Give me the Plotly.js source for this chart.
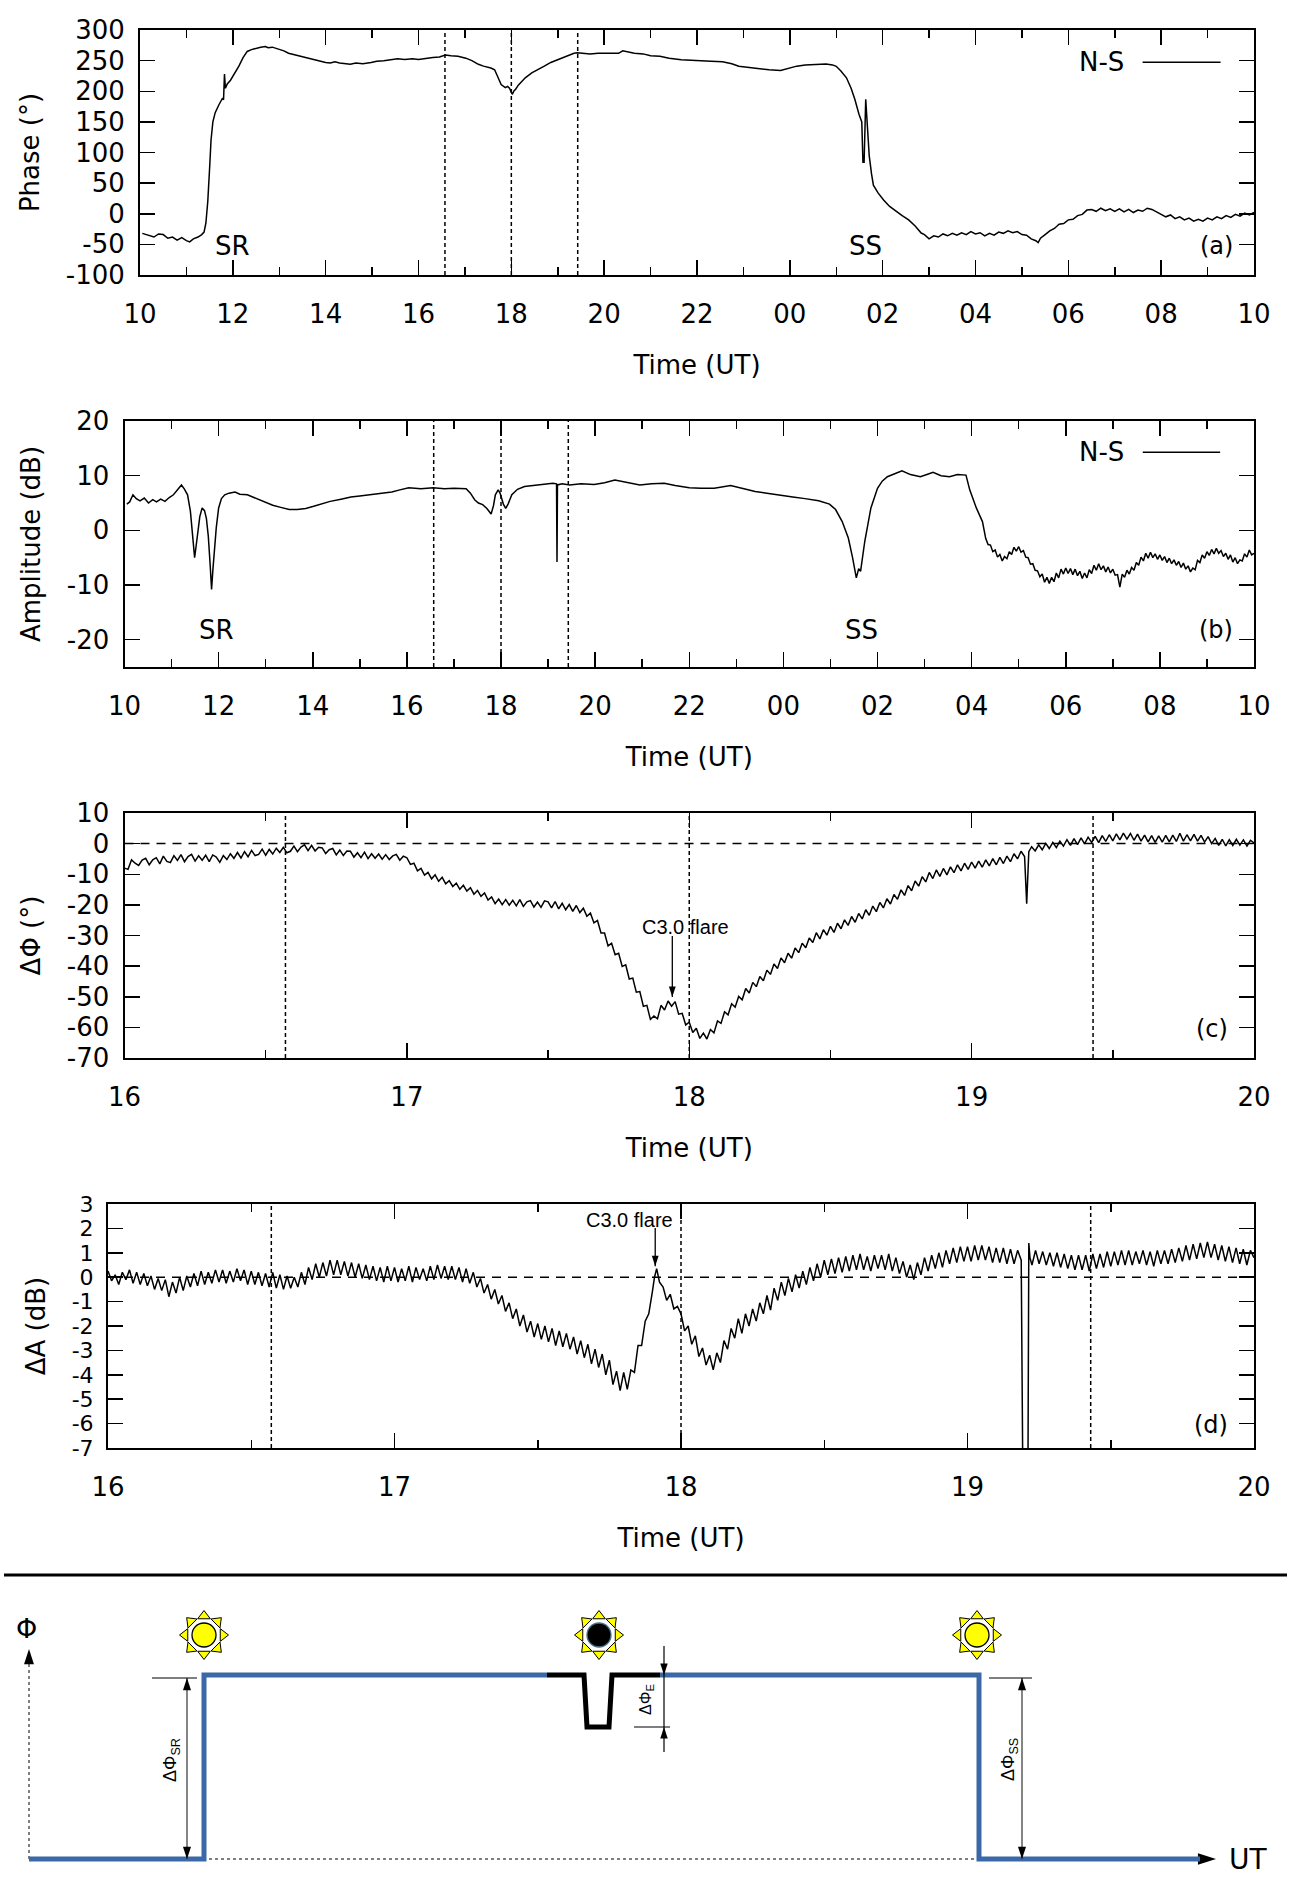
<!DOCTYPE html>
<html><head><meta charset="utf-8">
<script src="https://cdn.plot.ly/plotly-3.0.1.min.js"></script>
<style>html,body{margin:0;padding:0;background:#fff}#chart{width:1293px;height:1884px}</style>
</head><body><div id="chart"></div>
<script>
// ---------------- DATA ----------------
// (a) Phase, N-S, hours from 10 UT (24+ = next day)
const phaseTime = [10.05,10.2,10.3,10.4,10.5,10.6,10.7,10.8,10.9,11.0,11.07,11.15,11.25,11.33,11.38,11.42,11.46,11.5,11.53,11.57,
11.62,11.7,11.75,11.78,11.8,11.82,11.84,11.88,11.95,12.05,12.13,12.22,12.31,12.4,12.49,12.6,12.7,12.76,12.85,12.95,
13.02,13.1,13.2,13.3,13.4,13.5,13.64,13.75,13.85,14.0,14.1,14.2,14.3,14.4,14.53,14.65,14.8,14.98,15.1,15.25,
15.42,15.55,15.7,15.87,16.0,16.15,16.31,16.45,16.58,16.7,16.85,17.02,17.15,17.29,17.4,17.56,17.64,17.7,17.78,17.87,
17.92,17.96,18.0,18.02,18.06,18.09,18.15,18.22,18.3,18.44,18.55,18.71,18.85,18.98,19.1,19.24,19.35,19.42,19.55,19.7,
19.87,20.0,20.15,20.31,20.4,20.5,20.65,20.84,21.0,21.2,21.4,21.66,21.9,22.1,22.3,22.55,22.75,22.9,23.1,23.35,
23.55,23.8,23.98,24.15,24.33,24.55,24.78,24.92,25.0,25.1,25.22,25.32,25.4,25.49,25.55,25.575,25.6,25.635,25.67,25.71,
25.76,25.8,25.9,26.02,26.15,26.29,26.42,26.56,26.7,26.83,
26.9,27.0,27.1,27.2,27.3,27.4,27.5,27.6,27.7,27.8,
27.9,28.0,28.1,28.2,28.3,28.4,28.5,28.6,28.7,28.8,
28.9,29.0,29.1,29.2,29.3,29.35,29.4,29.5,29.6,29.7,
29.8,29.9,30.0,30.1,30.2,30.3,30.4,30.5,30.6,30.7,
30.8,30.9,31.0,31.1,31.2,31.3,31.4,31.5,31.6,31.7,
31.8,31.9,32.0,32.1,32.2,32.3,32.4,32.5,32.6,32.7,
32.8,32.9,33.0,33.1,33.2,33.3,33.4,33.5,33.6,33.7,
33.8,33.9,34.0];
const phaseNS = [-32,-36,-38,-33,-34,-40,-38,-43,-39,-44,-46,-41,-38,-34,-30,-15,20,75,120,150,
165,178,185,189,186,228,205,212,218,230,241,255,265,268,270,272,273,271,272,270,
268,266,262,260,258,256,254,251,249,247,246,248,246,245,244,246,245,247,249,250,
252,253,252,253,252,254,255,256,259,258,257,254,250,244,241,238,235,225,211,206,
208,205,198,195,201,203,210,216,222,230,234,241,247,251,255,259,262,263,262,261,
262,262,261,262,266,264,262,261,258,257,254,251.5,251,250,249,248,245,240.7,239,236,
235,234,238,241,243,244,244.5,243,240.7,233,222,205,187,162.5,150,84,84,187,140,95,
65,46.6,34,22.4,12,3.5,-3,-10,-20,-31.5,
-34,-41,-36,-38,-33,-36,-32,-35,-31,-34,
-29,-33,-31,-36,-32,-35,-30,-32,-28,-31,
-29,-34,-35,-41,-44,-47,-40,-34,-28,-24,
-17,-16,-10,-9,-3,-1,6,7,4,9,
5,8,4,8,3,7,2,6,4,9,
7,3,-1,-5,-2,-8,-5,-10,-7,-12,
-9,-12,-7,-10,-5,-8,-3,-6,-1,-4,
1,-2,2];

// (b) Amplitude, N-S
const ampTime = [10.05,10.11,10.18,10.25,10.33,10.42,10.51,10.6,10.68,10.77,10.86,10.95,11.04,11.12,11.21,11.27,11.34,11.4,11.43,11.47,
11.49,11.52,11.56,11.6,11.65,11.7,11.74,11.78,11.82,11.85,11.88,11.91,11.95,12.0,12.06,12.13,12.22,12.35,12.45,12.61,
12.8,12.96,13.15,13.32,13.5,13.67,13.85,14.02,14.2,14.37,14.6,14.81,15.0,15.25,15.45,15.68,15.85,16.04,16.3,16.56,
16.8,17.0,17.26,17.35,17.44,17.52,17.61,17.7,17.79,17.84,17.88,17.94,17.98,18.01,18.05,18.1,18.15,18.23,18.35,18.5,
18.75,18.95,19.1,19.18,19.19,19.2,19.3,19.46,19.7,19.98,20.2,20.42,20.6,20.8,20.95,21.2,21.47,21.7,22.0,22.25,
22.53,22.88,23.1,23.4,23.65,23.93,24.2,24.46,24.75,24.98,25.11,25.25,25.38,25.47,25.55,25.6,25.64,25.73,25.86,26.0,
26.1,26.21,26.35,26.52,26.7,26.91,27.05,27.18,27.35,27.53,27.7,27.88,27.96,28.1,28.23,
28.3,28.35,28.4,28.45,28.5,28.55,28.6,28.65,28.7,28.75,
28.8,28.85,28.9,28.95,29.0,29.05,29.1,29.15,29.2,29.25,
29.3,29.35,29.4,29.45,29.5,29.55,29.6,29.65,29.7,29.75,
29.8,29.85,29.9,29.95,30.0,30.05,30.1,30.15,30.2,30.25,
30.3,30.35,30.4,30.45,30.5,30.55,30.6,30.65,30.7,30.75,
30.8,30.85,30.9,30.95,31.0,31.05,31.1,31.15,31.2,31.25,
31.3,31.35,31.4,31.45,31.5,31.55,31.6,31.65,31.7,31.75,
31.8,31.85,31.9,31.95,32.0,32.05,32.1,32.15,32.2,32.25,
32.3,32.35,32.4,32.45,32.5,32.55,32.6,32.65,32.7,32.75,
32.8,32.85,32.9,32.95,33.0,33.05,33.1,33.15,33.2,33.25,
33.3,33.35,33.4,33.45,33.5,33.55,33.6,33.65,33.7,33.75,
33.8,33.85,33.9,33.95,34.0];
const ampNS = [4.8,5.2,6.5,5.8,5.4,5.9,5.0,5.6,5.2,5.7,5.3,6.0,6.5,7.4,8.3,7.6,6.5,3.5,1.0,-3,
-5.0,-3,-0.2,2.5,4.1,3.6,2.2,-1,-6.3,-10.8,-7,-3.2,0.5,4.1,5.8,6.5,6.8,7.0,6.6,6.5,
5.8,5.3,4.6,4.2,3.8,3.8,4.0,4.4,4.9,5.3,5.7,6.1,6.3,6.6,6.8,7.0,7.4,7.8,7.6,7.8,
7.6,7.7,7.6,6.8,5.6,5.0,4.7,4.0,3.0,4.5,6.5,7.4,6.8,5.9,4.8,4.0,4.8,6.5,7.5,8.0,
8.2,8.4,8.6,8.5,-5.8,8.3,8.5,8.3,8.5,8.4,8.7,9.2,8.9,8.6,8.3,8.5,8.6,8.2,7.8,7.7,
7.7,8.2,7.7,7.1,6.8,6.4,6.1,5.8,5.4,4.8,3.8,1.6,-1.4,-5.0,-8.7,-7.0,-7.5,-2.0,4.1,7.7,
9.0,9.8,10.3,10.9,10.2,9.8,10.2,10.6,10.0,9.8,10.2,10.1,7.4,4.1,1.6,
-1.5,-2.6,-2.7,-3.9,-3.6,-4.9,-4.4,-5.6,-4.8,-5.2,
-3.9,-4.4,-3.1,-3.8,-3.0,-4.0,-3.7,-4.9,-5.0,-6.2,
-6.1,-7.3,-7.4,-8.5,-8.0,-9.5,-8.6,-9.7,-8.6,-9.4,
-7.8,-8.7,-7.1,-8.0,-6.9,-7.9,-7.0,-8.1,-7.1,-8.3,
-7.5,-8.8,-7.8,-8.7,-7.2,-7.9,-6.4,-7.3,-6.1,-7.2,
-6.5,-7.6,-6.7,-7.8,-7.1,-8.2,-8.1,-10.4,-8.0,-8.6,
-7.3,-8.0,-6.8,-7.3,-5.9,-6.4,-4.9,-5.6,-4.2,-5.1,
-4.0,-5.0,-4.3,-5.3,-4.5,-5.5,-4.8,-5.9,-5.1,-6.1,
-5.4,-6.4,-5.7,-6.8,-6.0,-7.1,-6.5,-7.6,-6.9,-7.2,
-5.5,-5.9,-4.5,-5.1,-3.9,-4.6,-3.5,-4.3,-3.3,-4.2,
-3.7,-4.8,-4.2,-5.3,-4.5,-5.8,-5.0,-6.1,-5.4,-5.6,
-4.3,-4.9,-3.6,-4.5,-4.2];

// (c) Delta Phase (16-20 UT)
const dPhiTime = [
16.0,16.0125,16.025,16.0375,16.05,16.0625,16.075,16.0875,
16.1,16.1125,16.125,16.1375,16.15,16.1625,16.175,16.1875,
16.2,16.2125,16.225,16.2375,16.25,16.2625,16.275,16.2875,
16.3,16.3125,16.325,16.3375,16.35,16.3625,16.375,16.3875,
16.4,16.4125,16.425,16.4375,16.45,16.4625,16.475,16.4875,
16.5,16.5125,16.525,16.5375,16.55,16.5625,16.575,16.5875,
16.6,16.6125,16.625,16.6375,16.65,16.6625,16.675,16.6875,
16.7,16.7125,16.725,16.7375,16.75,16.7625,16.775,16.7875,
16.8,16.8125,16.825,16.8375,16.85,16.8625,16.875,16.8875,
16.9,16.9125,16.925,16.9375,16.95,16.9625,16.975,16.9875,
17.0,17.0125,17.025,17.0375,17.05,17.0625,17.075,17.0875,
17.1,17.1125,17.125,17.1375,17.15,17.1625,17.175,17.1875,
17.2,17.2125,17.225,17.2375,17.25,17.2625,17.275,17.2875,
17.3,17.3125,17.325,17.3375,17.35,17.3625,17.375,17.3875,
17.4,17.4125,17.425,17.4375,17.45,17.4625,17.475,17.4875,
17.5,17.5125,17.525,17.5375,17.55,17.5625,17.575,17.5875,
17.6,17.6125,17.625,17.6375,17.65,17.6625,17.675,17.6875,
17.7,17.7125,17.725,17.7375,17.75,17.7625,17.775,17.7875,
17.8,17.8125,17.825,17.8375,17.85,17.8625,17.875,17.8875,
17.9,17.9125,17.925,17.9375,17.95,17.9625,17.975,17.9875,
18.0,18.0125,18.025,18.0375,18.05,18.0625,18.075,18.0875,
18.1,18.1125,18.125,18.1375,18.15,18.1625,18.175,18.1875,
18.2,18.2125,18.225,18.2375,18.25,18.2625,18.275,18.2875,
18.3,18.3125,18.325,18.3375,18.35,18.3625,18.375,18.3875,
18.4,18.4125,18.425,18.4375,18.45,18.4625,18.475,18.4875,
18.5,18.5125,18.525,18.5375,18.55,18.5625,18.575,18.5875,
18.6,18.6125,18.625,18.6375,18.65,18.6625,18.675,18.6875,
18.7,18.7125,18.725,18.7375,18.75,18.7625,18.775,18.7875,
18.8,18.8125,18.825,18.8375,18.85,18.8625,18.875,18.8875,
18.9,18.9125,18.925,18.9375,18.95,18.9625,18.975,18.9875,
19.0,19.0125,19.025,19.0375,19.05,19.0625,19.075,19.0875,
19.1,19.1125,19.125,19.1375,19.15,19.1625,19.175,19.1875,
19.195,19.2025,
19.2125,19.225,19.2375,19.25,19.2625,19.275,19.2875,
19.3,19.3125,19.325,19.3375,19.35,19.3625,19.375,19.3875,
19.4,19.4125,19.425,19.4375,19.45,19.4625,19.475,19.4875,
19.5,19.5125,19.525,19.5375,19.55,19.5625,19.575,19.5875,
19.6,19.6125,19.625,19.6375,19.65,19.6625,19.675,19.6875,
19.7,19.7125,19.725,19.7375,19.75,19.7625,19.775,19.7875,
19.8,19.8125,19.825,19.8375,19.85,19.8625,19.875,19.8875,
19.9,19.9125,19.925,19.9375,19.95,19.9625,19.975,19.9875,20.0];
const dPhi = [
-8.0,-8.4,-5.3,-6.4,-7.1,-5.4,-4.8,-6.9,
-5.3,-4.6,-6.6,-4.1,-5.8,-6.2,-3.9,-5.5,
-3.6,-5.9,-4.2,-3.5,-5.7,-4.0,-5.4,-3.8,
-5.9,-3.7,-4.4,-6.1,-3.9,-5.2,-3.3,-4.8,
-2.9,-4.7,-2.6,-4.3,-2.2,-3.9,-3.5,-1.8,
-3.8,-1.9,-3.4,-1.5,-2.9,-1.2,-3.0,-2.5,
-0.8,-2.6,-1.1,-0.4,-2.3,-0.6,-2.4,-1.2,
-1.4,-3.2,-2.0,-1.6,-3.7,-2.1,-3.9,-2.4,
-2.5,-4.4,-3.0,-4.6,-2.8,-4.9,-3.3,-4.8,
-3.4,-5.1,-3.6,-5.2,-4.0,-3.5,-5.4,-4.1,
-4.6,-6.8,-6.4,-8.9,-8.1,-10.3,-9.4,-11.5,
-10.2,-12.3,-11.0,-13.1,-12.1,-14.0,-12.9,-14.9,
-13.6,-15.5,-14.4,-16.5,-15.3,-17.2,-16.1,-18.4,
-17.4,-19.6,-18.1,-19.9,-18.3,-20.1,-18.5,-20.3,
-18.3,-20.5,-19.0,-18.6,-20.7,-19.1,-20.8,-18.7,
-19.0,-21.0,-18.9,-21.3,-19.5,-21.6,-19.9,-22.1,
-20.2,-22.5,-21.1,-23.7,-22.7,-25.9,-25.1,-29.2,
-29.2,-33.4,-32.5,-36.3,-35.8,-40.1,-39.6,-44.2,
-43.9,-48.5,-48.3,-53.1,-52.8,-57.4,-56.3,-57.2,
-52.8,-54.3,-51.4,-53.1,-51.6,-55.7,-55.4,-59.2,
-58.3,-61.7,-60.3,-63.6,-61.9,-63.8,-60.7,-61.8,
-57.9,-58.7,-54.9,-55.9,-52.3,-53.4,-49.9,-51.0,
-47.3,-48.8,-45.3,-46.7,-43.4,-44.8,-41.3,-42.7,
-39.3,-40.8,-37.3,-38.9,-35.8,-37.4,-34.1,-35.6,
-32.5,-34.0,-30.8,-32.3,-29.1,-31.1,-28.1,-29.9,
-27.0,-29.0,-26.0,-27.8,-24.9,-26.7,-23.8,-25.7,
-22.8,-24.6,-21.6,-23.4,-20.4,-22.2,-19.2,-21.0,
-18.0,-19.7,-16.6,-18.2,-15.1,-16.9,-13.7,-15.4,
-12.2,-13.9,-10.8,-12.5,-9.4,-11.4,-8.6,-10.7,
-8.1,-10.2,-7.6,-9.5,-6.9,-8.9,-6.4,-8.4,
-6.0,-8.0,-5.7,-7.7,-5.3,-7.3,-4.9,-6.9,
-4.5,-6.5,-4.1,-5.9,-3.3,-5.0,-2.5,-4.2,
-19.6,-2.6,
-1.0,-2.4,-0.4,-2.0,0.1,-1.6,0.4,
-1.3,0.8,-0.8,1.3,-0.6,1.6,-0.3,1.9,
-0.1,2.1,0.4,2.4,0.3,2.6,0.7,2.9,
0.9,3.2,1.2,3.4,1.5,3.3,1.1,3.1,
0.8,2.8,0.6,2.6,0.4,2.5,0.5,2.7,
0.6,2.8,0.7,3.4,0.8,2.9,0.9,3.0,
0.8,2.7,0.5,2.3,0.0,1.7,-0.6,1.4,
-0.7,1.3,-0.6,1.4,-0.5,1.2,-0.8,1.1,0.2];

// (d) Delta Amplitude (16-20 UT)
const dAmpTime = [
16.0,16.0125,16.025,16.0375,16.05,16.0625,16.075,16.0875,
16.1,16.1125,16.125,16.1375,16.15,16.1625,16.175,16.1875,
16.2,16.2125,16.225,16.2375,16.25,16.2625,16.275,16.2875,
16.3,16.3125,16.325,16.3375,16.35,16.3625,16.375,16.3875,
16.4,16.4125,16.425,16.4375,16.45,16.4625,16.475,16.4875,
16.5,16.5125,16.525,16.5375,16.55,16.5625,16.575,16.5875,
16.6,16.6125,16.625,16.6375,16.65,16.6625,16.675,16.6875,
16.7,16.7125,16.725,16.7375,16.75,16.7625,16.775,16.7875,
16.8,16.8125,16.825,16.8375,16.85,16.8625,16.875,16.8875,
16.9,16.9125,16.925,16.9375,16.95,16.9625,16.975,16.9875,
17.0,17.0125,17.025,17.0375,17.05,17.0625,17.075,17.0875,
17.1,17.1125,17.125,17.1375,17.15,17.1625,17.175,17.1875,
17.2,17.2125,17.225,17.2375,17.25,17.2625,17.275,17.2875,
17.3,17.3125,17.325,17.3375,17.35,17.3625,17.375,17.3875,
17.4,17.4125,17.425,17.4375,17.45,17.4625,17.475,17.4875,
17.5,17.5125,17.525,17.5375,17.55,17.5625,17.575,17.5875,
17.6,17.6125,17.625,17.6375,17.65,17.6625,17.675,17.6875,
17.7,17.7125,17.725,17.7375,17.75,17.7625,17.775,17.7875,
17.8,17.8125,17.825,17.8375,17.85,17.8625,17.875,17.8875,
17.9,17.9075,17.915,17.925,17.9375,17.95,17.9625,17.975,17.9875,
18.0,18.0125,18.025,18.0375,18.05,18.0625,18.075,18.0875,
18.1,18.1125,18.125,18.1375,18.15,18.1625,18.175,18.1875,
18.2,18.2125,18.225,18.2375,18.25,18.2625,18.275,18.2875,
18.3,18.3125,18.325,18.3375,18.35,18.3625,18.375,18.3875,
18.4,18.4125,18.425,18.4375,18.45,18.4625,18.475,18.4875,
18.5,18.5125,18.525,18.5375,18.55,18.5625,18.575,18.5875,
18.6,18.6125,18.625,18.6375,18.65,18.6625,18.675,18.6875,
18.7,18.7125,18.725,18.7375,18.75,18.7625,18.775,18.7875,
18.8,18.8125,18.825,18.8375,18.85,18.8625,18.875,18.8875,
18.9,18.9125,18.925,18.9375,18.95,18.9625,18.975,18.9875,
19.0,19.0125,19.025,19.0375,19.05,19.0625,19.075,19.0875,
19.1,19.1125,19.125,19.1375,19.15,19.1625,19.175,19.1875,
19.193,19.211,19.214,19.218,
19.225,19.2375,19.25,19.2625,19.275,19.2875,
19.3,19.3125,19.325,19.3375,19.35,19.3625,19.375,19.3875,
19.4,19.4125,19.425,19.4375,19.45,19.4625,19.475,19.4875,
19.5,19.5125,19.525,19.5375,19.55,19.5625,19.575,19.5875,
19.6,19.6125,19.625,19.6375,19.65,19.6625,19.675,19.6875,
19.7,19.7125,19.725,19.7375,19.75,19.7625,19.775,19.7875,
19.8,19.8125,19.825,19.8375,19.85,19.8625,19.875,19.8875,
19.9,19.9125,19.925,19.9375,19.95,19.9625,19.975,19.9875,20.0];
const dAmp = [
0.25,-0.15,0.1,-0.3,0.2,-0.1,0.3,-0.25,
0.2,-0.3,0.15,-0.35,0.05,-0.5,-0.05,-0.55,
-0.1,-0.8,-0.2,-0.65,0.0,-0.55,0.05,-0.4,
0.15,-0.35,0.25,-0.3,0.2,-0.25,0.3,-0.2,
0.3,-0.25,0.25,-0.2,0.35,-0.15,0.3,-0.3,
0.25,-0.3,0.2,-0.35,0.15,-0.4,0.2,-0.45,
0.1,-0.5,0.05,-0.45,0.0,-0.4,0.2,-0.3,
0.4,-0.1,0.55,0.0,0.6,0.05,0.7,0.1,
0.7,0.1,0.65,0.05,0.6,0.0,0.55,-0.05,
0.5,-0.1,0.45,-0.15,0.4,-0.2,0.45,-0.15,
0.4,-0.2,0.35,-0.15,0.45,-0.2,0.4,-0.1,
0.35,-0.15,0.45,-0.1,0.5,-0.05,0.45,-0.1,
0.45,-0.1,0.4,-0.2,0.35,-0.25,0.2,-0.4,
-0.05,-0.65,-0.3,-0.9,-0.5,-1.1,-0.75,-1.4,
-1.05,-1.7,-1.3,-2.0,-1.55,-2.25,-1.8,-2.45,
-1.9,-2.55,-2.0,-2.65,-2.1,-2.8,-2.2,-2.85,
-2.3,-2.95,-2.45,-3.15,-2.6,-3.3,-2.75,-3.55,
-2.95,-3.7,-3.15,-4.0,-3.4,-4.4,-3.85,-4.65,
-3.9,-4.6,-3.8,-3.9,-2.8,-2.8,-1.8,-1.5,
-0.6,0.0,0.35,-0.2,-0.4,-0.95,-0.7,-1.3,-1.2,
-1.5,-2.2,-2.0,-2.75,-2.4,-3.25,-2.9,-3.6,
-3.2,-3.8,-3.1,-3.5,-2.6,-2.95,-2.1,-2.5,
-1.7,-2.3,-1.5,-2.0,-1.3,-1.8,-1.05,-1.5,
-0.75,-1.35,-0.45,-0.95,-0.2,-0.75,-0.05,-0.6,
0.1,-0.45,0.25,-0.3,0.4,-0.15,0.55,0.0,
0.7,0.1,0.75,0.15,0.8,0.2,0.85,0.25,
0.9,0.3,0.95,0.3,0.85,0.25,0.9,0.35,
0.9,0.3,0.95,0.25,0.8,0.15,0.65,0.0,
0.5,-0.1,0.6,0.1,0.8,0.25,0.9,0.35,
1.0,0.4,1.1,0.55,1.2,0.6,1.25,0.65,
1.25,0.65,1.3,0.7,1.3,0.7,1.25,0.6,
1.2,0.6,1.2,0.55,1.15,0.55,1.1,0.7,
-8,-8,1.4,0.8,
0.5,1.1,0.55,1.05,0.5,1.0,
0.45,1.0,0.4,0.95,0.35,0.9,0.3,0.9,
0.3,0.9,0.25,0.95,0.35,0.95,0.4,1.05,
0.45,1.05,0.5,1.1,0.5,1.1,0.5,1.05,
0.55,1.1,0.5,1.05,0.45,1.1,0.55,1.1,
0.55,1.15,0.6,1.2,0.65,1.3,0.7,1.35,
0.75,1.4,0.8,1.45,0.8,1.35,0.7,1.3,
0.65,1.25,0.6,1.2,0.55,1.15,0.5,1.1,0.8];

const eventTimes = [16.57, 18.0, 19.43];          // dotted vertical markers
const dayTickVals = [10,12,14,16,18,20,22,24,26,28,30,32,34];
const dayTickText = ['10','12','14','16','18','20','22','00','02','04','06','08','10'];
const zoomTickVals = [16,17,18,19,20];
const zoomTickText = ['16','17','18','19','20'];
const phaseTicks = [-100,-50,0,50,100,150,200,250,300];
const ampTicks = [-20,-10,0,10,20];
const dPhiTicks = [-70,-60,-50,-40,-30,-20,-10,0,10];
const dAmpTicks = [-7,-6,-5,-4,-3,-2,-1,0,1,2,3];
const flareC = {t: 17.94, text: 'C3.0 flare', textT: 17.987, textY: -27.1, tail: -30.2, head: -50.1};
const flareD = {t: 17.91, text: 'C3.0 flare', textT: 17.82, textY: 2.36, tail: 2.02, head: 0.45};

// Schematic (bottom panel), arbitrary units
const schemNightT = [2.9, 20.4, 20.4, 54.7];
const schemNightP = [2.5, 2.5, 20.9, 20.9];
const schemEclT = [54.7, 58.4, 58.7, 60.9, 61.2, 66.0];
const schemEclP = [20.9, 20.9, 15.7, 15.7, 20.9, 20.9];
const schemDayT = [66.0, 97.9, 97.9, 120.0];
const schemDayP = [20.9, 20.9, 2.5, 2.5];
const sunT = [20.4, 59.9, 97.7];
const sunP = [24.9, 24.9, 24.9];
const sunFill = ['#ffff00', '#000000', '#ffff00'];
const dimSR = {t: 18.7, lo: 2.5, hi: 20.6};
const dimSS = {t: 102.2, lo: 2.5, hi: 20.6};
const dimE = {t: 66.4, top: 23.8, hi: 20.9, lo: 15.7, bottom: 13.2};
const axisPhiTip = 23.5, axisUTTip = 121.6;

// ---------------- LAYOUT ----------------
const W = 1293, H = 1884;
const box = { a: [140, 1254, 30, 275], b: [124.5, 1254, 421, 667], c: [124.5, 1254, 813, 1058], d: [108, 1254, 1204, 1448] };
const dx = b => [b[0] / W, b[1] / W];
const dy = b => [1 - b[3] / H, 1 - b[2] / H];
const FONT = 'DejaVu Sans';
const blue = '#3b69a8';
const lbl = v => String(v);

function xAxis(b, anchor, vals, text, minorDt, range) {
  return {
    domain: dx(b), anchor: anchor, range: range, tickmode: 'array', tickvals: vals, ticktext: text,
    showline: true, linecolor: '#000', linewidth: 2, mirror: 'ticks', ticks: 'inside', ticklen: 15, tickwidth: 1.5, tickcolor: '#000',
    minor: {ticks: 'inside', ticklen: 8, tickwidth: 1.5, tickcolor: '#000', dtick: minorDt, tick0: 0, showgrid: false},
    showgrid: false, zeroline: false, ticklabelstandoff: 15,
    tickfont: {family: FONT, size: 26, color: '#000'},
    title: {text: 'Time (UT)', font: {family: FONT, size: 26, color: '#000'}, standoff: 28}
  };
}
function yAxis(b, anchor, range, vals, title, fs) {
  return {
    domain: dy(b), anchor: anchor, range: range, tickmode: 'array', tickvals: vals, ticktext: vals.map(lbl),
    showline: true, linecolor: '#000', linewidth: 2, mirror: 'ticks', ticks: 'inside', ticklen: 15, tickwidth: 1.5, tickcolor: '#000',
    showgrid: false, zeroline: false, ticklabelstandoff: 8,
    tickfont: {family: FONT, size: fs || 26, color: '#000'},
    title: {text: title, font: {family: FONT, size: 26, color: '#000'}, standoff: 19}
  };
}

const lineStyle = {color: '#000', width: 1.5};
const S = {xaxis: 'x5', yaxis: 'y5'};
const head = (x, y, ang, size, color) => Object.assign({x: [x], y: [y], mode: 'markers',
  marker: {symbol: 'arrow', angle: ang, size: size, color: color || '#000', line: {width: 0}}}, S);
const traces = [
  {x: phaseTime, y: phaseNS, xaxis: 'x', yaxis: 'y', mode: 'lines', line: lineStyle, name: 'N-S'},
  {x: ampTime, y: ampNS, xaxis: 'x2', yaxis: 'y2', mode: 'lines', line: lineStyle, name: 'N-S'},
  {x: dPhiTime, y: dPhi, xaxis: 'x3', yaxis: 'y3', mode: 'lines', line: {color: '#000', width: 1.5}, name: 'dPhi'},
  {x: dAmpTime, y: dAmp, xaxis: 'x4', yaxis: 'y4', mode: 'lines', line: {color: '#000', width: 1.5}, name: 'dA'},
  // flare arrows
  {x: [flareC.t, flareC.t], y: [flareC.tail, flareC.head], xaxis: 'x3', yaxis: 'y3', mode: 'lines', line: {color: '#000', width: 1.3}},
  {x: [flareC.t], y: [flareC.head], xaxis: 'x3', yaxis: 'y3', mode: 'markers', marker: {symbol: 'arrow', angle: 180, size: 11, color: '#000'}},
  {x: [flareD.t, flareD.t], y: [flareD.tail, flareD.head], xaxis: 'x4', yaxis: 'y4', mode: 'lines', line: {color: '#000', width: 1.3}},
  {x: [flareD.t], y: [flareD.head], xaxis: 'x4', yaxis: 'y4', mode: 'markers', marker: {symbol: 'arrow', angle: 180, size: 11, color: '#000'}},
  // schematic: dotted axes
  Object.assign({x: [schemNightT[0], axisUTTip - 1], y: [schemNightP[0], schemNightP[0]], mode: 'lines', line: {color: '#000', width: 1, dash: '3px,3px'}}, S),
  Object.assign({x: [schemNightT[0], schemNightT[0]], y: [schemNightP[0], axisPhiTip - 1], mode: 'lines', line: {color: '#000', width: 1, dash: '3px,3px'}}, S),
  head(schemNightT[0], axisPhiTip, 0, 16),
  head(axisUTTip, schemNightP[0], 90, 19),
  // schematic: phase step
  Object.assign({x: schemNightT, y: schemNightP, mode: 'lines', line: {color: blue, width: 5}}, S),
  Object.assign({x: schemEclT, y: schemEclP, mode: 'lines', line: {color: '#000', width: 5}}, S),
  Object.assign({x: schemDayT, y: schemDayP, mode: 'lines', line: {color: blue, width: 5}}, S),
  // dimension arrows
  Object.assign({x: [dimSR.t, dimSR.t], y: [dimSR.lo, dimSR.hi], mode: 'lines', line: {color: '#333', width: 1.2}}, S),
  head(dimSR.t, dimSR.hi, 0, 13), head(dimSR.t, dimSR.lo, 180, 13),
  Object.assign({x: [dimSS.t, dimSS.t], y: [dimSS.lo, dimSS.hi], mode: 'lines', line: {color: '#333', width: 1.2}}, S),
  head(dimSS.t, dimSS.hi, 0, 13), head(dimSS.t, dimSS.lo, 180, 13),
  Object.assign({x: [dimE.t, dimE.t], y: [dimE.top, dimE.bottom], mode: 'lines', line: {color: '#000', width: 1.2}}, S),
  head(dimE.t, dimE.hi, 180, 12), head(dimE.t, dimE.lo, 0, 12),
];
// sun icons: 8 rays + disc
const rayR = 1.9;
sunT.forEach((st, i) => {
  const rx = [], ry = [], ang = [];
  for (let k = 0; k < 8; k++) {
    const a = k * 45;
    rx.push(st + rayR * Math.sin(a * Math.PI / 180));
    ry.push(sunP[i] + rayR * Math.cos(a * Math.PI / 180));
    ang.push(a);
  }
  traces.push(Object.assign({x: rx, y: ry, mode: 'markers',
    marker: {symbol: 'triangle-up', size: 11, angle: ang, color: '#ffff00', line: {color: '#000', width: 1}}}, S));
  traces.push(Object.assign({x: [st], y: [sunP[i]], mode: 'markers',
    marker: {symbol: 'circle', size: 24, color: sunFill[i], line: {color: i === 1 ? '#4a6e8a' : '#000', width: 1.3}}}, S));
});
traces.forEach(t => { t.showlegend = false; t.hoverinfo = 'skip'; });

const shapes = [];
[['x', 'y'], ['x2', 'y2'], ['x3', 'y3'], ['x4', 'y4']].forEach(([xa, ya]) => {
  eventTimes.forEach(t => shapes.push({type: 'line', xref: xa, yref: ya + ' domain', x0: t, x1: t, y0: 0, y1: 1,
    line: {color: '#000', width: 1.5, dash: '4px,3px'}, layer: 'above'}));
});
[['x3', 'y3'], ['x4', 'y4']].forEach(([xa, ya]) => shapes.push({type: 'line', xref: xa + ' domain', yref: ya, x0: 0, x1: 1, y0: 0, y1: 0,
  line: {color: '#000', width: 1.5, dash: '9px,7px'}, layer: 'below'}));
// legend samples
shapes.push({type: 'line', xref: 'x domain', yref: 'y domain', x0: 0.900, x1: 0.970, y0: 0.868, y1: 0.868, line: {color: '#000', width: 1.5}});
shapes.push({type: 'line', xref: 'x2 domain', yref: 'y2 domain', x0: 0.9015, x1: 0.970, y0: 0.873, y1: 0.873, line: {color: '#000', width: 1.5}});
// separator rule
shapes.push({type: 'line', xref: 'paper', yref: 'paper', x0: 4 / W, x1: 1287 / W, y0: 1 - 1575 / H, y1: 1 - 1575 / H, line: {color: '#000', width: 3}});
// schematic dimension extension lines
shapes.push({type: 'line', xref: 'x5', yref: 'y5', x0: 15.2, x1: 19.7, y0: dimSR.hi, y1: dimSR.hi, line: {color: '#000', width: 1.2}});
shapes.push({type: 'line', xref: 'x5', yref: 'y5', x0: 98.9, x1: 103.2, y0: dimSS.hi, y1: dimSS.hi, line: {color: '#000', width: 1.2}});
shapes.push({type: 'line', xref: 'x5', yref: 'y5', x0: 63.4, x1: 67.0, y0: dimE.lo, y1: dimE.lo, line: {color: '#000', width: 1.2}});

const txt = (s, c) => ({family: FONT, size: s, color: c || '#000'});
const annotations = [
  {xref: 'x', yref: 'y', x: 11.57, y: -53, text: 'SR', showarrow: false, xanchor: 'left', yanchor: 'middle', font: txt(26)},
  {xref: 'x', yref: 'y', x: 25.24, y: -53, text: 'SS', showarrow: false, xanchor: 'left', yanchor: 'middle', font: txt(26)},
  {xref: 'x domain', yref: 'y domain', x: 0.983, y: 0.117, text: '(a)', showarrow: false, xanchor: 'right', yanchor: 'middle', font: txt(24)},
  {xref: 'x domain', yref: 'y domain', x: 0.885, y: 0.868, text: 'N-S', showarrow: false, xanchor: 'right', yanchor: 'middle', font: txt(26)},
  {xref: 'x2', yref: 'y2', x: 11.55, y: -18.2, text: 'SR', showarrow: false, xanchor: 'left', yanchor: 'middle', font: txt(26)},
  {xref: 'x2', yref: 'y2', x: 25.26, y: -18.2, text: 'SS', showarrow: false, xanchor: 'left', yanchor: 'middle', font: txt(26)},
  {xref: 'x2 domain', yref: 'y2 domain', x: 0.983, y: 0.151, text: '(b)', showarrow: false, xanchor: 'right', yanchor: 'middle', font: txt(24)},
  {xref: 'x2 domain', yref: 'y2 domain', x: 0.887, y: 0.873, text: 'N-S', showarrow: false, xanchor: 'right', yanchor: 'middle', font: txt(26)},
  {xref: 'x3 domain', yref: 'y3 domain', x: 0.979, y: 0.117, text: '(c)', showarrow: false, xanchor: 'right', yanchor: 'middle', font: txt(24)},
  {xref: 'x4 domain', yref: 'y4 domain', x: 0.979, y: 0.093, text: '(d)', showarrow: false, xanchor: 'right', yanchor: 'middle', font: txt(24)},
  {xref: 'x3', yref: 'y3', x: flareC.textT, y: flareC.textY, text: flareC.text, showarrow: false, font: {family: 'Liberation Sans', size: 20, color: '#000'}},
  {xref: 'x4', yref: 'y4', x: flareD.textT, y: flareD.textY, text: flareD.text, showarrow: false, font: {family: 'Liberation Sans', size: 20, color: '#000'}},
  // schematic labels
  {xref: 'x5', yref: 'y5', x: 2.6, y: 25.6, text: 'Φ', showarrow: false, font: txt(27)},
  {xref: 'x5', yref: 'y5', x: 124.8, y: 2.5, text: 'UT', showarrow: false, font: txt(28)},
  {xref: 'x5', yref: 'y5', x: 17.1, y: 12.4, text: 'ΔΦ<sub>SR</sub>', textangle: -90, showarrow: false, font: {family: 'Liberation Sans', size: 18, color: '#000'}},
  {xref: 'x5', yref: 'y5', x: 100.9, y: 12.4, text: 'ΔΦ<sub>SS</sub>', textangle: -90, showarrow: false, font: {family: 'Liberation Sans', size: 18, color: '#000'}},
  {xref: 'x5', yref: 'y5', x: 64.6, y: 18.4, text: 'ΔΦ<sub>E</sub>', textangle: -90, showarrow: false, font: {family: 'Liberation Sans', size: 16, color: '#000'}},
];

const layout = {
  width: W, height: H, margin: {l: 0, r: 0, t: 0, b: 0}, paper_bgcolor: '#fff', plot_bgcolor: '#fff', showlegend: false,
  font: {family: FONT, size: 26, color: '#000'},
  xaxis: xAxis(box.a, 'y', dayTickVals, dayTickText, 1, [10, 34]),
  yaxis: yAxis(box.a, 'x', [-100, 300], phaseTicks, 'Phase (°)'),
  xaxis2: xAxis(box.b, 'y2', dayTickVals, dayTickText, 1, [10, 34]),
  yaxis2: yAxis(box.b, 'x2', [-25, 20], ampTicks, 'Amplitude (dB)'),
  xaxis3: xAxis(box.c, 'y3', zoomTickVals, zoomTickText, 0.5, [16, 20]),
  yaxis3: yAxis(box.c, 'x3', [-70, 10], dPhiTicks, 'ΔΦ (°)'),
  xaxis4: xAxis(box.d, 'y4', zoomTickVals, zoomTickText, 0.5, [16, 20]),
  yaxis4: yAxis(box.d, 'x4', [-7, 3], dAmpTicks, 'ΔA (dB)', 22),
  xaxis5: {domain: [0, 1], anchor: 'y5', range: [0, 129.3], visible: false, fixedrange: true},
  yaxis5: {domain: [0, 309 / H], anchor: 'x5', range: [0, 30.9], visible: false, fixedrange: true},
  shapes: shapes, annotations: annotations
};
Plotly.newPlot('chart', traces, layout, {staticPlot: true, displayModeBar: false});
</script></body></html>
